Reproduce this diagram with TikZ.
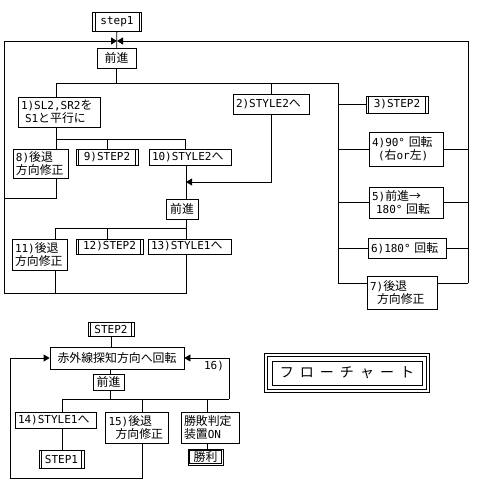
\documentclass[tikz,border=0pt]{standalone}
\usepackage{fontspec}
\setmainfont{DejaVu Sans Mono}
\newfontfamily\jp{Noto Sans CJK JP}[Scale=1.08]
\newcommand{\jt}[1]{{\jp #1}}
\usepackage{tikz}
\usetikzlibrary{arrows.meta,calc}

\begin{document}
\begin{tikzpicture}[x=1pt,y=-1pt,line width=0.8pt,
  every node/.style={font=\fontsize{11}{13}\selectfont},
  box/.style={draw,fill=white,inner xsep=3pt,inner ysep=1pt,align=left},
  sub/.style={box,align=center,path picture={
    \draw ([xshift=2.5pt]path picture bounding box.north west) -- ([xshift=2.5pt]path picture bounding box.south west)
          ([xshift=-2.5pt]path picture bounding box.north east) -- ([xshift=-2.5pt]path picture bounding box.south east);}},
  arr/.style={-{Triangle[length=6pt,width=7pt]}}]
\useasboundingbox (0,0) rectangle (485,486);

% --- step1
\node[sub,text width=43pt,minimum height=19pt] (step1) at (117,21.5) {step1};
\node[box,align=center,text width=33pt,minimum height=20pt] (fwd1) at (116.5,58) {\jt{前進}};
\node[box,text width=76pt,minimum height=30pt] (n1) at (59,112) {1)SL2,SR2\jt{を}\\\hspace{4pt}S1\jt{と平行に}};
\node[box,text width=70pt,minimum height=20pt] (n2) at (271,104) {2)STYLE2\jt{へ}};
\node[sub,text width=56pt,minimum height=17pt] (n3) at (397,104.5) {3)STEP2};
\node[box,text width=68pt,minimum height=34pt] (n4) at (406,149) {4)90°\ \jt{回転}\\\hspace{6pt}(\jt{右}or\jt{左})};
\node[box,text width=68pt,minimum height=31pt] (n5) at (406,202.5) {5)\jt{前進→}\\\hspace{4pt}180°\ \jt{回転}};
\node[box,text width=72pt,minimum height=20pt] (n6) at (407,248) {6)180°\ \jt{回転}};
\node[box,text width=64pt,minimum height=33pt] (n7) at (402,292.5) {7)\jt{後退}\\\hspace{7pt}\jt{方向修正}};
\node[box,text width=49pt,minimum height=29pt] (n8) at (40.5,163.5) {8)\jt{後退}\\\jt{方向修正}};
\node[sub,text width=56pt,minimum height=16pt] (n9) at (107,157) {9)STEP2};
\node[box,text width=76pt,minimum height=16pt] (n10) at (190,157) {10)STYLE2\jt{へ}};
\node[box,align=center,text width=26pt,minimum height=20pt] (fwd2) at (182,209) {\jt{前進}};
\node[box,text width=49pt,minimum height=31pt] (n11) at (39.5,254.5) {11)\jt{後退}\\\jt{方向修正}};
\node[sub,text width=61pt,minimum height=15pt] (n12) at (109.5,246.5) {12)STEP2};
\node[box,text width=77pt,minimum height=15pt] (n13) at (189.5,246.5) {13)STYLE1\jt{へ}};

% --- step2
\node[sub,text width=40pt,minimum height=14pt] (step2) at (111,329) {STEP2};
\node[box,align=center,text width=128pt,minimum height=22pt] (rot) at (117,358) {\jt{赤外線探知方向へ回転}};
\node[box,align=center,text width=25pt,minimum height=16pt] (fwd3) at (108.5,382) {\jt{前進}};
\node[box,text width=75pt,minimum height=16pt] (n14) at (55.5,420) {14)STYLE1\jt{へ}};
\node[box,text width=57pt,minimum height=31pt] (n15) at (137,427.5) {15)\jt{後退}\\\hspace{7pt}\jt{方向修正}};
\node[box,text width=52pt,minimum height=31pt] (judge) at (210,427.5) {\jt{勝敗判定}\\\jt{装置}ON};
\node[sub,text width=39pt,minimum height=18pt] (step1b) at (61.5,459) {STEP1};
\node[box,align=center,text width=29pt,minimum height=16pt] (win) at (205.5,457) {\jt{勝利}};
\draw ([shift={(2,2)}]win.north west) rectangle ([shift={(-2,-2)}]win.south east);
\node (l16) at (214,366) {16)};

% --- title
\node[draw,minimum width=150pt,minimum height=24pt,font=\jp\fontsize{13}{15}\selectfont] (ttl) at (347,373)
  {フ\hspace{6pt}ロ\hspace{6pt}ー\hspace{6pt}チ\hspace{6pt}ャ\hspace{6pt}ー\hspace{6pt}ト};
\draw ([shift={(-4,-4)}]ttl.north west) rectangle ([shift={(4,4)}]ttl.south east);
\draw ([shift={(-7,-7)}]ttl.north west) rectangle ([shift={(7,7)}]ttl.south east);

% --- connectors, upper chart
\coordinate (lt) at (4,41);
\coordinate (rt) at (468,41);
\coordinate (top) at (117,41);
\coordinate (lb) at (4,293);
\coordinate (rb) at (468,283);
\coordinate (bl) at (338,283);
\coordinate (l8) at (4,198);
\coordinate (r1) at (56,83);
\coordinate (r1e) at (338,83);
\coordinate (r2) at (56,139);
\coordinate (r2e) at (185,139);
\coordinate (r3) at (55,228);
\coordinate (r3e) at (186,228);
\coordinate (v2) at (186,182);

\draw (step1) -- (fwd1);
\draw[arr] (lb) -- (lt) -- (top);
\draw[arr] (rb) -- (rt) -- (top);
\draw (fwd1.south) -- (fwd1.south |- r1);
\draw (r1 |- n1.north) -- (r1) -- (r1e) -- (bl);
\draw (n2.north) -- (n2.north |- r1);
\draw (n3.west) -- (n3.west -| r1e);
\draw (n4.west) -- (n4.west -| r1e);
\draw (n5.west) -- (n5.west -| r1e);
\draw (n6.west) -- (n6.west -| r1e);
\draw (bl) -- (bl -| n7.west);
\draw (n4.east) -- (n4.east -| rt);
\draw (n5.east) -- (n5.east -| rt);
\draw (n6.east) -- (n6.east -| rt);
\draw (rb) -- (rb -| n7.east);

\draw (r2 |- n1.south) -- (r2 |- n8.north);
\draw (r2) -- (r2e) -- (r2e |- n10.north);
\draw (n9.north) -- (n9.north |- r2);
\draw (n8.south -| r2) |- (l8);
\draw (n10.south -| v2) -- (fwd2.north -| v2);
\draw[arr] (n2.south) |- (v2);

\draw (fwd2.south -| r3e) -- (r3e);
\draw (r3 |- n11.north) -- (r3) -- (r3e) -- (r3e |- n13.north);
\draw (n12.north -| 107,0) -- (r3 -| 107,0);
\draw (n11.south -| r3) |- (lb);
\draw (n13.south -| r3e) |- (lb);

% --- connectors, lower chart
\coordinate (r4) at (62,399);
\coordinate (r4e) at (229,399);
\coordinate (v15) at (142,399);
\coordinate (v16) at (207,399);
\coordinate (lp) at (10,478);

\draw (step2.south) -- (step2.south |- rot.north);
\draw (rot.south -| 110,0) -- (fwd3.north -| 110,0);
\draw (fwd3.south -| 110,0) -- (r4 -| 110,0);
\draw (r4 |- n14.north) -- (r4) -- (r4e);
\draw[arr] (r4e) |- (rot.east);
\draw (v15) -- (v15 |- n15.north);
\draw (v16) -- (v16 |- judge.north);
\draw (n14.south -| r4) -- (step1b.north -| r4);
\draw (judge.south -| v16) -- (win.north -| v16);
\draw[arr] (v15 |- n15.south) |- (lp) |- (rot.west);
\end{tikzpicture}
\end{document}
